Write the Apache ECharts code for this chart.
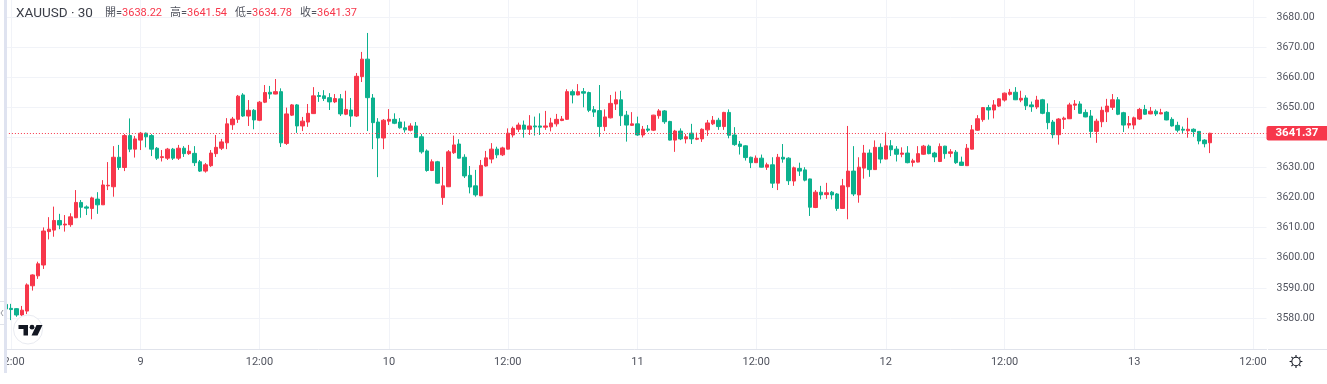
<!DOCTYPE html>
<html><head><meta charset="utf-8">
<style>html,body{margin:0;padding:0;background:#fff}#c{width:1327px;height:384px}</style>
<script src="https://cdn.jsdelivr.net/npm/echarts@6/dist/echarts.min.js"></script>
</head><body><div id="c"></div>
<script>
const opens=[3584.5,3583.2,3583.1,3581.0,3582.3,3590.7,3594.0,3597.6,3608.7,3609.2,
3612.4,3610.9,3611.0,3613.3,3618.4,3616.9,3616.4,3619.5,3617.6,3623.9,
3623.6,3633.4,3630.0,3640.6,3636.1,3639.1,3641.4,3640.6,3636.4,3633.3,
3633.1,3636.1,3633.1,3636.4,3634.6,3634.7,3631.9,3628.8,3630.6,3634.6,
3636.4,3638.2,3644.2,3646.0,3654.1,3647.1,3649.0,3645.7,3651.7,3655.0,
3654.4,3655.2,3638.0,3647.4,3650.8,3643.8,3645.1,3647.9,3653.9,3653.8,
3653.2,3651.8,3652.8,3647.7,3649.1,3647.1,3660.2,3666.0,3653.1,3645.1,
3639.8,3645.4,3646.0,3645.1,3643.2,3642.4,3643.8,3640.2,3635.5,3629.0,
3631.9,3620.0,3623.6,3634.9,3637.8,3633.4,3627.4,3623.9,3620.6,3630.5,
3632.8,3636.1,3634.2,3636.1,3640.8,3642.7,3644.1,3642.7,3643.8,3643.8,
3643.4,3643.5,3644.5,3645.6,3646.0,3655.2,3654.1,3655.2,3654.9,3649.2,
3648.9,3643.6,3646.5,3651.1,3652.5,3647.4,3644.0,3644.5,3640.8,3642.8,
3642.4,3647.2,3648.8,3645.3,3639.1,3642.1,3639.5,3641.4,3639.4,3639.5,
3642.5,3644.5,3645.7,3643.6,3648.3,3640.8,3637.8,3637.2,3633.4,3631.6,
3633.1,3630.1,3630.9,3624.8,3633.4,3633.1,3625.5,3629.7,3629.2,3626.2,
3616.7,3621.8,3621.0,3621.8,3621.2,3616.4,3623.6,3628.8,3620.9,3629.8,
3634.8,3629.3,3636.7,3632.8,3637.2,3636.1,3634.4,3634.8,3631.7,3631.8,
3634.4,3637.1,3634.8,3632.0,3637.1,3634.7,3635.1,3631.8,3630.6,3636.1,
3642.4,3645.9,3649.9,3649.1,3650.4,3652.4,3654.3,3655.0,3652.4,3653.1,
3650.8,3650.1,3652.5,3648.3,3645.1,3640.9,3646.0,3646.2,3650.7,3651.1,
3648.3,3647.1,3642.0,3645.2,3648.5,3650.0,3652.5,3648.2,3644.1,3644.1,
3646.1,3649.3,3647.8,3648.7,3647.8,3648.4,3646.0,3644.0,3642.7,3642.2,
3642.7,3642.0,3639.1,3638.22];
const closes=[3583.0,3582.8,3581.0,3582.6,3591.0,3594.3,3598.0,3608.9,3609.5,3612.4,
3610.9,3611.2,3613.6,3618.4,3616.8,3616.5,3619.9,3617.6,3624.2,3624.1,
3633.4,3630.0,3640.6,3636.1,3639.5,3641.4,3640.2,3636.1,3633.1,3633.6,
3636.1,3633.1,3636.4,3634.6,3635.4,3631.6,3628.8,3630.9,3634.8,3636.7,
3638.5,3644.5,3646.1,3653.7,3647.1,3649.0,3645.8,3651.7,3654.9,3654.4,
3655.2,3638.2,3647.8,3650.8,3643.8,3645.4,3648.0,3653.8,3653.6,3652.9,
3651.8,3652.9,3647.8,3649.3,3647.1,3660.3,3666.0,3653.2,3644.9,3639.8,
3645.7,3646.0,3644.7,3643.2,3642.5,3643.8,3640.0,3635.2,3629.0,3631.9,
3624.8,3623.9,3635.2,3637.5,3633.1,3627.2,3623.5,3620.9,3630.7,3633.2,
3636.1,3634.2,3636.5,3641.4,3643.0,3644.1,3642.7,3643.8,3643.5,3643.4,
3643.8,3644.8,3646.0,3646.1,3655.2,3654.1,3655.2,3654.7,3649.0,3648.4,
3643.6,3646.8,3651.3,3652.5,3647.2,3644.1,3644.5,3640.8,3642.7,3642.4,
3647.4,3648.8,3645.2,3639.1,3642.1,3639.5,3640.2,3639.5,3639.7,3642.7,
3644.8,3645.7,3643.6,3648.3,3640.7,3637.6,3637.0,3633.3,3631.6,3633.1,
3630.1,3630.9,3624.8,3633.4,3632.8,3625.6,3629.9,3628.8,3625.8,3616.8,
3621.8,3620.9,3621.6,3620.9,3616.4,3623.9,3628.8,3621.2,3630.1,3634.8,
3629.3,3636.7,3632.8,3637.2,3635.9,3634.4,3634.8,3631.6,3632.2,3634.6,
3637.1,3634.6,3633.5,3637.0,3634.6,3635.2,3631.6,3630.7,3636.4,3642.5,
3646.2,3649.9,3649.1,3650.8,3652.8,3654.7,3655.0,3652.5,3653.0,3650.5,
3650.2,3652.4,3648.0,3644.9,3640.9,3646.1,3646.4,3650.8,3651.1,3648.0,
3646.8,3642.0,3645.4,3649.0,3650.4,3652.5,3647.7,3644.1,3644.6,3646.5,
3649.3,3647.7,3648.7,3647.8,3648.2,3645.8,3643.8,3642.4,3642.4,3642.7,
3641.9,3638.8,3637.9,3641.37];
const highs=[3585.0,3584.7,3583.3,3584.0,3591.5,3594.5,3598.7,3610.1,3613.5,3617.0,
3614.6,3614.2,3614.8,3622.5,3619.2,3617.4,3620.3,3621.8,3625.8,3631.8,
3637.1,3637.5,3641.1,3646.3,3640.5,3641.8,3641.6,3641.1,3636.8,3635.8,
3636.5,3636.5,3637.5,3637.1,3637.5,3637.1,3632.5,3631.5,3635.8,3640.8,
3639.5,3646.4,3646.8,3654.1,3654.7,3652.4,3649.4,3652.1,3657.4,3657.1,
3659.4,3656.3,3649.9,3651.1,3651.1,3646.8,3651.1,3656.7,3655.1,3655.7,
3654.7,3654.4,3654.4,3655.5,3653.1,3661.4,3668.4,3674.7,3654.4,3646.4,
3646.1,3649.4,3648.0,3646.4,3645.3,3644.7,3645.1,3641.1,3636.0,3632.7,
3632.2,3630.2,3635.8,3640.6,3639.4,3634.4,3630.5,3629.2,3632.5,3635.5,
3638.1,3636.9,3636.9,3643.0,3643.6,3644.9,3645.6,3647.4,3646.9,3648.0,
3648.8,3646.5,3647.8,3647.1,3656.0,3655.9,3657.7,3656.4,3655.2,3650.4,
3657.4,3649.3,3654.1,3655.2,3655.5,3648.8,3648.4,3646.9,3643.8,3644.1,
3647.5,3649.4,3649.1,3645.5,3642.5,3643.0,3641.1,3644.5,3641.6,3643.0,
3645.8,3647.1,3646.5,3648.5,3649.3,3643.4,3638.8,3637.4,3633.6,3634.0,
3634.3,3631.6,3633.4,3634.5,3637.8,3633.4,3630.3,3631.6,3630.1,3626.3,
3622.5,3623.9,3624.9,3622.2,3621.5,3626.2,3643.8,3637.1,3633.4,3637.5,
3636.0,3639.0,3638.0,3641.7,3639.1,3637.1,3636.7,3637.1,3632.9,3637.1,
3637.5,3637.6,3635.2,3638.0,3637.2,3636.1,3635.8,3633.6,3637.8,3644.1,
3647.4,3650.1,3650.8,3652.4,3653.0,3654.9,3656.1,3656.7,3655.5,3654.0,
3651.9,3653.8,3652.8,3651.3,3645.8,3646.4,3646.9,3651.5,3652.4,3652.0,
3649.3,3649.1,3646.2,3650.2,3652.8,3654.4,3653.4,3648.5,3647.1,3646.9,
3649.8,3650.8,3650.1,3649.3,3649.5,3648.7,3646.7,3645.2,3643.6,3646.5,
3643.0,3642.1,3639.4,3641.54];
const lows=[3582.7,3579.3,3580.4,3580.7,3581.3,3589.1,3593.0,3596.3,3606.1,3607.0,
3609.5,3608.7,3610.3,3613.2,3613.3,3614.2,3612.8,3614.6,3617.6,3622.5,
3620.3,3629.2,3628.8,3635.1,3633.3,3635.8,3636.7,3633.8,3632.5,3632.0,
3632.5,3632.5,3632.5,3633.5,3634.2,3630.5,3628.5,3628.3,3630.2,3633.5,
3635.8,3636.1,3642.5,3644.8,3646.8,3643.8,3642.7,3645.4,3651.4,3652.8,
3654.3,3636.8,3637.5,3647.1,3641.5,3642.1,3643.5,3647.8,3651.8,3652.1,
3649.1,3651.4,3647.1,3647.4,3643.5,3646.8,3658.4,3642.1,3636.1,3626.8,
3636.1,3644.1,3644.4,3642.9,3641.6,3642.0,3639.8,3634.6,3628.6,3628.8,
3624.6,3617.6,3623.5,3634.5,3633.0,3626.5,3621.4,3620.3,3620.5,3630.3,
3631.4,3633.1,3633.8,3636.0,3640.0,3641.8,3639.9,3640.8,3640.6,3640.8,
3642.5,3642.0,3643.6,3645.4,3645.8,3651.3,3654.0,3650.0,3648.4,3646.8,
3640.2,3642.1,3646.3,3649.1,3643.8,3638.6,3643.8,3640.5,3640.0,3641.8,
3642.1,3646.2,3644.5,3639.0,3635.2,3639.1,3638.0,3637.8,3639.1,3638.5,
3640.5,3644.1,3642.5,3642.5,3639.7,3637.2,3634.3,3632.3,3629.8,3631.5,
3630.0,3629.2,3623.2,3622.5,3631.6,3624.2,3623.9,3627.2,3625.4,3613.9,
3616.5,3619.4,3619.6,3619.4,3615.6,3616.3,3612.8,3620.5,3618.3,3626.3,
3626.9,3629.2,3631.4,3632.7,3633.8,3632.0,3633.4,3631.4,3630.3,3631.7,
3634.2,3634.4,3631.8,3631.8,3632.9,3633.4,3631.2,3630.6,3630.5,3636.0,
3642.2,3645.2,3645.9,3646.3,3650.1,3651.9,3653.9,3652.4,3651.7,3649.1,
3648.5,3649.4,3647.7,3642.7,3639.7,3637.6,3642.8,3646.1,3649.1,3647.8,
3646.7,3639.9,3638.2,3643.4,3645.1,3649.1,3647.4,3641.8,3643.0,3642.7,
3645.8,3647.5,3647.7,3647.1,3647.7,3645.7,3643.6,3641.7,3641.4,3639.9,
3640.2,3637.7,3636.7,3634.78];
const slotCount=234;
const tickSlots=[1,25,47,71,93,117,139,163,185,209,231];
const tickLabels=['12:00','9','12:00','10','12:00','11','12:00','12','12:00','13','12:00'];
const priceTicks=[3580,3590,3600,3610,3620,3630,3640,3650,3660,3670,3680];
const priceLabels=[3580,3590,3600,3610,3620,3630,3650,3660,3670,3680];
const lastPrice=3641.37;
const headerTitle='XAUUSD · 30';
const ohlcNames=['開','高','低','收'];
const ohlcValues=['3638.22','3641.54','3634.78','3641.37'];

const RED='#f7374b',GREEN='#0cb18e',GRID='#f1f3f8',AXIS='#e0e3eb',TXT='#50535e';
const FF='Roboto,"Noto Sans CJK TC",sans-serif';
const categories=Array.from({length:slotCount},(_,i)=>{const k=tickSlots.indexOf(i);return k>=0?tickLabels[k]:'';});
const isTick=i=>tickSlots.indexOf(i)>=0;
const candles=opens.map((o,i)=>[o,closes[i],lows[i],highs[i]]);

const headerEls=[{type:'text',left:16,top:7,z:60,style:{text:headerTitle,font:'13.5px '+FF,fill:'#3a3d47'}}];
const nameX=[105,170,235,300];
ohlcNames.forEach((n,i)=>{
  headerEls.push({type:'text',left:nameX[i],top:8,z:60,style:{
    text:'{a|'+n+'=}{b|'+ohlcValues[i]+'}',
    rich:{a:{font:'11px '+FF,fill:'#50535e'},b:{font:'11px '+FF,fill:RED}}}});
});
const sunRays=[[0,-1],[0,1],[-1,0],[1,0],[-.707,-.707],[.707,.707],[-.707,.707],[.707,-.707]].map(d=>({
  type:'line',z:53,shape:{x1:1296+d[0]*4.4,y1:361.5+d[1]*4.4,x2:1296+d[0]*6.4,y2:361.5+d[1]*6.4},
  style:{stroke:'#131722',lineWidth:1.1}}));

const chart=echarts.init(document.getElementById('c'),null,{renderer:'canvas'});
chart.setOption({
  animation:false,backgroundColor:'#fff',
  grid:{left:2.9,right:60.5,top:0,bottom:34.5,containLabel:false,outerBoundsMode:'none'},
  xAxis:{type:'category',data:categories,boundaryGap:true,
    axisLine:{show:true,lineStyle:{color:AXIS,width:1}},
    axisTick:{show:false,alignWithLabel:true,interval:i=>isTick(i)},
    axisLabel:{interval:i=>isTick(i),color:TXT,fontSize:11,fontFamily:FF,margin:7,hideOverlap:false,showMinLabel:true},
    splitLine:{show:true,alignWithLabel:true,interval:i=>isTick(i),lineStyle:{color:GRID,width:1}}},
  yAxis:{type:'value',position:'right',min:3569.53,max:3685.65,scale:true,
    axisLine:{show:false},
    axisTick:{show:false,customValues:priceTicks},
    axisLabel:{customValues:priceLabels,color:TXT,fontSize:10.5,fontFamily:FF,margin:10,formatter:v=>v.toFixed(2)},
    splitLine:{show:true,lineStyle:{color:GRID,width:1}}},
  series:[{type:'candlestick',data:candles,barWidth:4,
    itemStyle:{color:RED,color0:GREEN,borderColor:RED,borderColor0:GREEN,borderWidth:1},
    markLine:{silent:true,symbol:'none',animation:false,
      lineStyle:{color:RED,type:[1,2],width:1},
      label:{show:true,position:'end',distance:0,formatter:()=>lastPrice.toFixed(2),
        color:'#fff',fontSize:11.5,fontWeight:'bold',fontFamily:FF,backgroundColor:RED,
        padding:[2,10,1,9],borderRadius:2},
      data:[{yAxis:lastPrice}]}}],
  graphic:{elements:[
    {type:'rect',z:50,shape:{x:0,y:0,width:7,height:384},style:{fill:'#fff'}},
    {type:'rect',z:51,shape:{x:4,y:0,width:3,height:373},style:{fill:'#dfe3f0'}},
    {type:'line',z:51,shape:{x1:1268,y1:349.5,x2:1327,y2:349.5},style:{stroke:AXIS,lineWidth:1}},
    {type:'polyline',z:51,shape:{points:[[0,301.5],[4,301.5]]},style:{stroke:AXIS,lineWidth:1,fill:null}},
    {type:'polyline',z:51,shape:{points:[[0,324.5],[4,324.5]]},style:{stroke:AXIS,lineWidth:1,fill:null}},
    {type:'polyline',z:51,shape:{points:[[3,310],[1,313],[3,316]]},style:{stroke:'#9598a1',lineWidth:1,fill:null}},
    {type:'circle',z:52,shape:{cx:28,cy:329.5,r:14.5},style:{fill:'#fff',stroke:'#e9ebf1',lineWidth:1}},
    {type:'polygon',z:53,shape:{points:[[18.5,325],[28,325],[28,335.5],[23.5,335.5],[23.5,329],[18.5,329]]},style:{fill:'#131722'}},
    {type:'circle',z:53,shape:{cx:32,cy:327.2,r:2.4},style:{fill:'#131722'}},
    {type:'polygon',z:53,shape:{points:[[36.5,325],[42.5,325],[37.5,335.5],[31.5,335.5]]},style:{fill:'#131722'}},
    {type:'circle',z:53,shape:{cx:1296,cy:361.5,r:4.2},style:{fill:'none',stroke:'#131722',lineWidth:1.1}}
  ].concat(sunRays,headerEls)}
});
</script></body></html>
